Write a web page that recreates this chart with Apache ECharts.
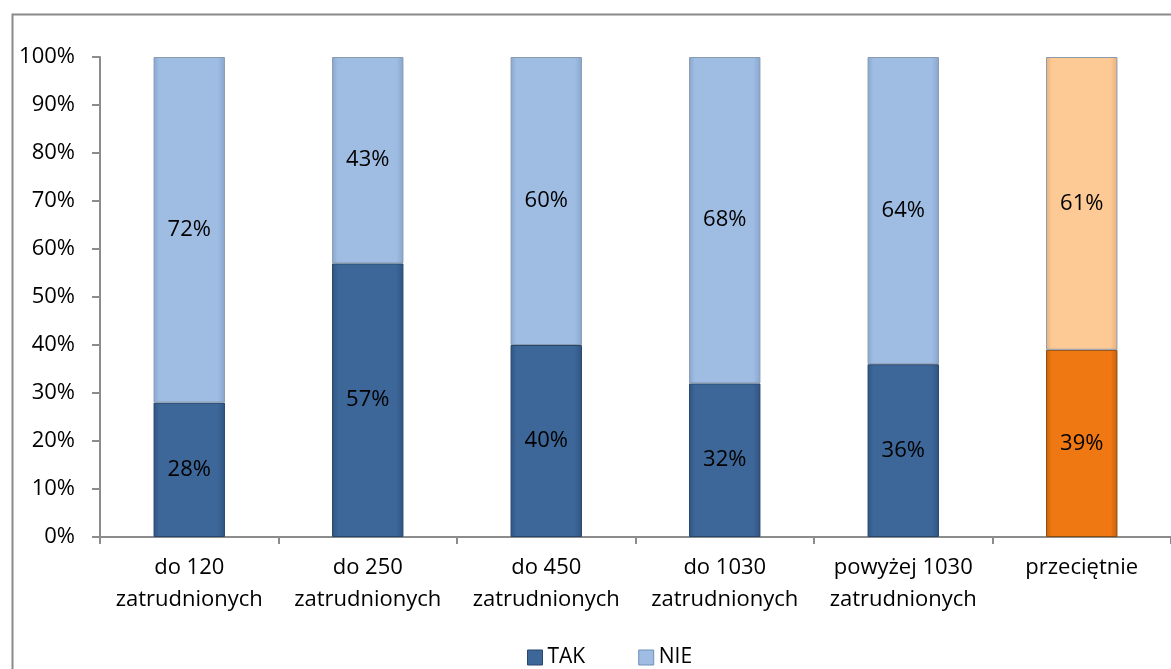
<!DOCTYPE html>
<html>
<head>
<meta charset="utf-8">
<script src="https://cdn.jsdelivr.net/npm/echarts@6/dist/echarts.min.js"></script>
<style>
html,body{margin:0;padding:0;background:#fff;}
#c{width:1171px;height:669px;}
</style>
</head>
<body>
<div id="c"></div>
<script>
var categories = ['do 120\nzatrudnionych', 'do 250\nzatrudnionych', 'do 450\nzatrudnionych', 'do 1030\nzatrudnionych', 'powyżej 1030\nzatrudnionych', 'przeciętnie'];
var takValues = [28, 57, 40, 32, 36, 39];
var nieValues = [72, 43, 60, 68, 64, 61];
var yTicks = [0, 10, 20, 30, 40, 50, 60, 70, 80, 90, 100];

var FONT = 'Open Sans';
var takColor = '#3d6699', nieColor = '#9fbde3';
var takOrange = '#f07812', nieOrange = '#fdc995';

function grad(c1, c2) {
  return new echarts.graphic.LinearGradient(0, 0, 1, 0, [
    {offset: 0, color: c1}, {offset: 0.08, color: c2}, {offset: 0.9, color: c2}, {offset: 1, color: c1}
  ]);
}

function buildData(vals, isTak) {
  return vals.map(function (v, i) {
    var last = i === vals.length - 1;
    var base = isTak ? (last ? takOrange : takColor) : (last ? nieOrange : nieColor);
    var edge = isTak ? (last ? '#c9620c' : '#2f5580') : (last ? '#e8b07a' : '#87a6cf');
    return {value: v, itemStyle: {color: grad(edge, base), borderColor: isTak ? (last ? '#8a4a10' : '#26466c') : '#8a9bb0', borderWidth: 1}};
  });
}

var chart = echarts.init(document.getElementById('c'), null, {renderer: 'canvas'});
chart.setOption({
  animation: false,
  backgroundColor: '#fff',
  graphic: [{
    type: 'rect', left: 10, top: 12, shape: {x: 0, y: 0, width: 1200, height: 700},
    style: {fill: 'none', stroke: '#8a8a8a', lineWidth: 2}, silent: true, z: -1
  }],
  grid: {left: 100, top: 57, width: 1076, height: 480, containLabel: false},
  legend: {
    top: 642, left: 522, itemWidth: 15, itemHeight: 15, itemGap: 53,
    icon: 'rect',
    textStyle: {fontFamily: FONT, fontSize: 21, color: '#000'},
    data: [{name: 'TAK', itemStyle: {color: takColor, borderColor: '#26466c', borderWidth: 1}},
           {name: 'NIE', itemStyle: {color: nieColor, borderColor: '#6f8fb8', borderWidth: 1}}]
  },
  xAxis: {
    type: 'category', data: categories,
    axisLine: {lineStyle: {color: '#8c8c8c', width: 2}},
    axisTick: {show: true, alignWithLabel: false, length: 7, lineStyle: {color: '#8c8c8c', width: 2}},
    axisLabel: {fontFamily: FONT, fontSize: 22, color: '#000', margin: 15, lineHeight: 32, interval: 0}
  },
  yAxis: {
    type: 'value', min: 0, max: 100, interval: 10,
    splitLine: {show: false},
    axisLine: {show: true, lineStyle: {color: '#8c8c8c', width: 2}},
    axisTick: {show: true, length: 8, lineStyle: {color: '#8c8c8c', width: 2}},
    axisLabel: {fontFamily: FONT, fontSize: 22, color: '#000', margin: 25, formatter: function (v) { return yTicks.indexOf(v) >= 0 ? v + '%' : ''; }}
  },
  series: [
    {name: 'TAK', type: 'bar', stack: 's', barWidth: '40%', data: buildData(takValues, true),
     label: {show: true, position: 'inside', formatter: '{c}%', fontFamily: FONT, fontSize: 22, color: '#000'}},
    {name: 'NIE', type: 'bar', stack: 's', barWidth: '40%', data: buildData(nieValues, false),
     label: {show: true, position: 'inside', formatter: '{c}%', fontFamily: FONT, fontSize: 22, color: '#000'}}
  ]
});
</script>
</body>
</html>
